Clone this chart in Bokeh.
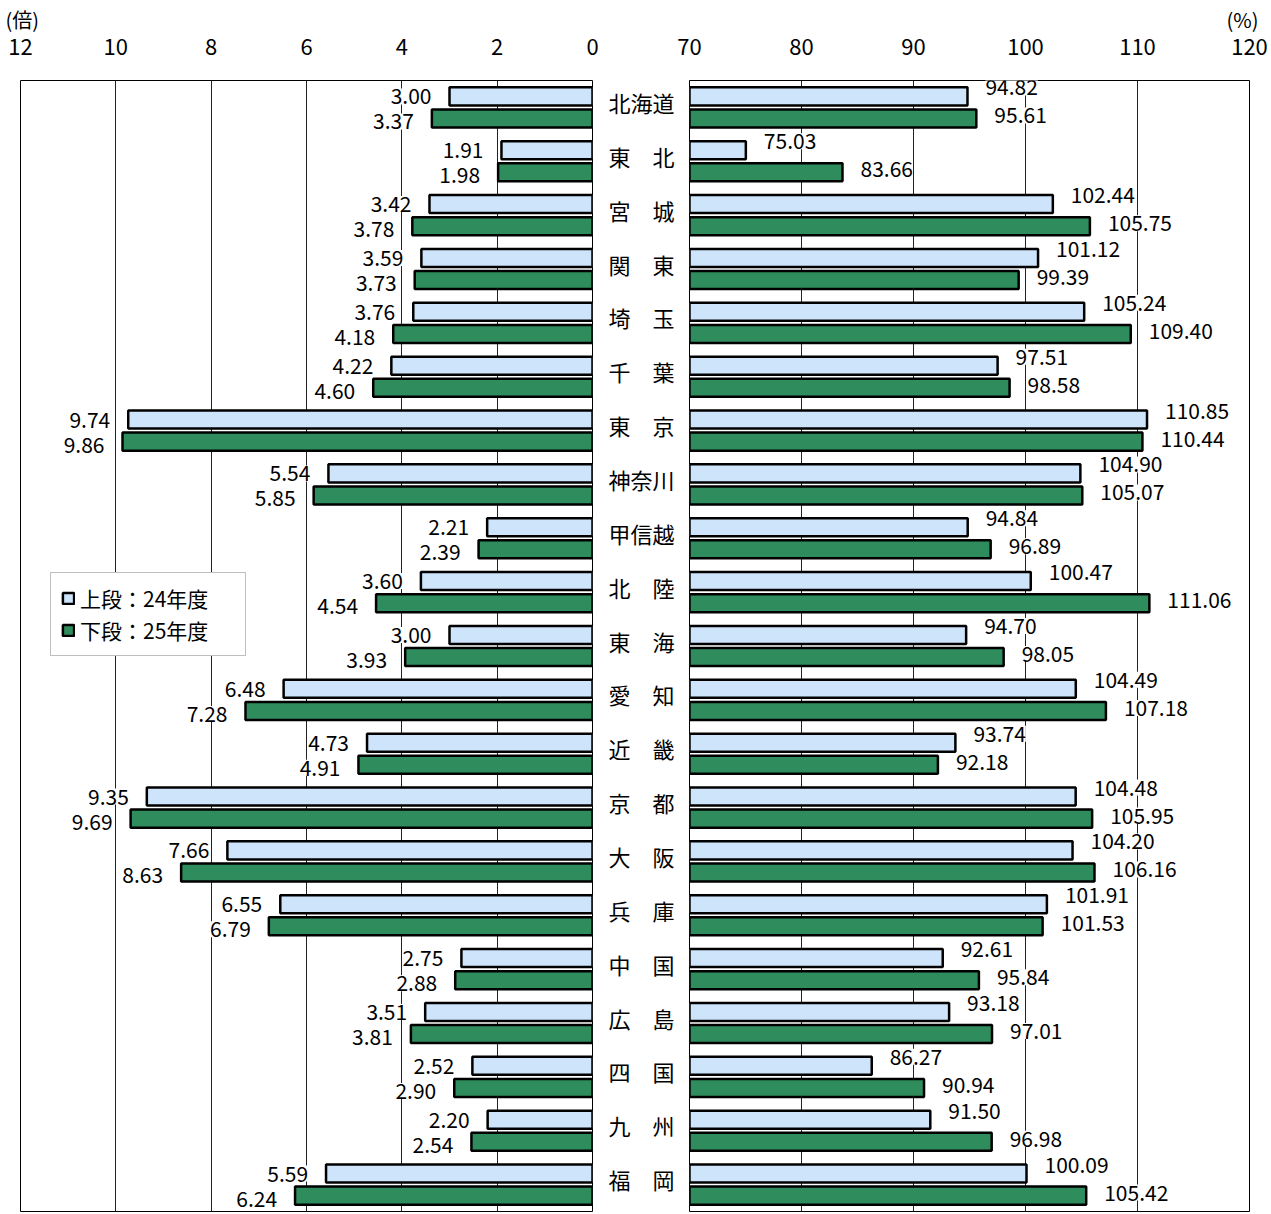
from bokeh.plotting import figure
from bokeh.layouts import row
from bokeh.models import (Range1d, FixedTicker, ColumnDataSource, LabelSet,
                          Legend, LegendItem, Title)
from bokeh.core.properties import value
from bokeh.embed import file_html
from bokeh.resources import INLINE

regions = ["北海道", "東　北", "宮　城", "関　東", "埼　玉", "千　葉", "東　京",
           "神奈川", "甲信越", "北　陸", "東　海", "愛　知", "近　畿", "京　都",
           "大　阪", "兵　庫", "中　国", "広　島", "四　国", "九　州", "福　岡"]
ratio_24 = [3.00, 1.91, 3.42, 3.59, 3.76, 4.22, 9.74, 5.54, 2.21, 3.60, 3.00,
            6.48, 4.73, 9.35, 7.66, 6.55, 2.75, 3.51, 2.52, 2.20, 5.59]
ratio_25 = [3.37, 1.98, 3.78, 3.73, 4.18, 4.60, 9.86, 5.85, 2.39, 4.54, 3.93,
            7.28, 4.91, 9.69, 8.63, 6.79, 2.88, 3.81, 2.90, 2.54, 6.24]
rate_24 = [94.82, 75.03, 102.44, 101.12, 105.24, 97.51, 110.85, 104.90, 94.84,
           100.47, 94.70, 104.49, 93.74, 104.48, 104.20, 101.91, 92.61, 93.18,
           86.27, 91.50, 100.09]
rate_25 = [95.61, 83.66, 105.75, 99.39, 109.40, 98.58, 110.44, 105.07, 96.89,
           111.06, 98.05, 107.18, 92.18, 105.95, 106.16, 101.53, 95.84, 97.01,
           90.94, 96.98, 105.42]
left_ticks = [0, 2, 4, 6, 8, 10, 12]
right_ticks = [70, 80, 90, 100, 110, 120]
legend_labels = ["上段：24年度", "下段：25年度"]

NUM_FONT = "Noto Sans CJK JP"
JP_FONT = "Noto Sans CJK JP"
BLUE = "#cde4fb"
GREEN = "#2f8c5c"

n = len(regions)
idx = list(range(n))
half_gap = 0.205
bar_h = 0.335
y_up = [i - half_gap for i in idx]
y_lo = [i + half_gap for i in idx]
# category label anchor, nudged slightly upward within each band
cat_pos = [i - 0.1 for i in idx]

src = ColumnDataSource(dict(
    y_up=y_up, y_lo=y_lo,
    r24=ratio_24, r25=ratio_25, p24=rate_24, p25=rate_25,
    r24t=[f"{v:.2f}" for v in ratio_24], r25t=[f"{v:.2f}" for v in ratio_25],
    p24t=[f"{v:.2f}" for v in rate_24], p25t=[f"{v:.2f}" for v in rate_25],
))

H = 1213
ylo, yhi = n - 0.5, -0.5


def style_common(p):
    p.outline_line_color = "black"
    p.outline_line_width = 1
    p.background_fill_color = "white"
    p.border_fill_color = "white"
    p.xaxis.major_tick_line_color = None
    p.xaxis.minor_tick_line_color = None
    p.xaxis.axis_line_color = None
    p.xaxis.major_label_text_font = NUM_FONT
    p.xaxis.major_label_text_font_size = "22px"
    p.xaxis.major_label_text_color = "black"
    p.xaxis.major_label_standoff = 20
    p.xgrid.grid_line_color = "#222222"
    p.xgrid.grid_line_width = 1
    p.ygrid.grid_line_color = None


def value_labels(p, xcol, ycol, tcol, xoff, yoff, align):
    p.add_layout(LabelSet(x=xcol, y=ycol, text=tcol, source=src, x_offset=xoff,
                          y_offset=yoff, text_align=align, text_baseline="middle",
                          text_font=value(NUM_FONT), text_font_size=value("21px"),
                          text_color="black", background_fill_color="white"))


# ---------------- left panel (倍) ----------------
pl = figure(width=600, height=H, x_range=Range1d(12, 0), y_range=Range1d(ylo, yhi),
            x_axis_location="above", toolbar_location=None, output_backend="svg",
            min_border_left=20, min_border_right=8, min_border_top=79,
            min_border_bottom=2, title=None)
pl.xaxis.ticker = FixedTicker(ticks=left_ticks)
pl.xgrid.ticker = FixedTicker(ticks=left_ticks)
pl.yaxis.visible = False
style_common(pl)
pl.add_layout(Title(text="(倍)", align="left", offset=-15, text_font=JP_FONT,
                    text_font_size="20px", text_font_style="normal",
                    text_color="black", standoff=4), "above")

rb1 = pl.hbar(y="y_up", left=0, right="r24", height=bar_h, source=src,
              fill_color=BLUE, line_color="black", line_width=2.5)
rb2 = pl.hbar(y="y_lo", left=0, right="r25", height=bar_h, source=src,
              fill_color=GREEN, line_color="black", line_width=2.5)

value_labels(pl, "r24", "y_up", "r24t", -18, 0, "right")
value_labels(pl, "r25", "y_lo", "r25t", -18, -3, "right")

legend = Legend(items=[LegendItem(label=legend_labels[0], renderers=[rb1]),
                       LegendItem(label=legend_labels[1], renderers=[rb2])],
                location=(30, 555), orientation="vertical",
                label_text_font=JP_FONT, label_text_font_size="21px",
                label_text_color="black", label_text_line_height=1.0,
                glyph_width=14, glyph_height=14,
                label_height=20, label_standoff=5, spacing=2, padding=10,
                margin=0, border_line_color="#808080", border_line_width=1,
                background_fill_color="white", background_fill_alpha=1,
                label_width=155)
pl.add_layout(legend)

# ---------------- right panel (%) ----------------
pr = figure(width=670, height=H, x_range=Range1d(70, 120), y_range=Range1d(ylo, yhi),
            x_axis_location="above", toolbar_location=None, output_backend="svg",
            min_border_left=89, min_border_right=21, min_border_top=79,
            min_border_bottom=2, title=None)
pr.xaxis.ticker = FixedTicker(ticks=right_ticks)
pr.xgrid.ticker = FixedTicker(ticks=right_ticks)
style_common(pr)
pr.add_layout(Title(text="(%)", align="right", offset=-9, text_font=JP_FONT,
                    text_font_size="20px", text_font_style="normal",
                    text_color="black", standoff=4), "above")

pr.yaxis.ticker = FixedTicker(ticks=cat_pos)
pr.yaxis.major_label_overrides = {cat_pos[i]: regions[i] for i in idx}
pr.yaxis.major_tick_line_color = None
pr.yaxis.minor_tick_line_color = None
pr.yaxis.axis_line_color = None
pr.yaxis.major_label_standoff = 9
pr.yaxis.major_label_text_font = JP_FONT
pr.yaxis.major_label_text_font_size = "22px"
pr.yaxis.major_label_text_color = "black"

pr.hbar(y="y_up", left=70, right="p24", height=bar_h, source=src,
        fill_color=BLUE, line_color="black", line_width=2.5)
pr.hbar(y="y_lo", left=70, right="p25", height=bar_h, source=src,
        fill_color=GREEN, line_color="black", line_width=2.5)

value_labels(pr, "p24", "y_up", "p24t", 18, 9, "left")
value_labels(pr, "p25", "y_lo", "p25t", 18, 3, "left")

layout = row(pl, pr, spacing=0)
open("out.html", "w").write(file_html(layout, INLINE))
